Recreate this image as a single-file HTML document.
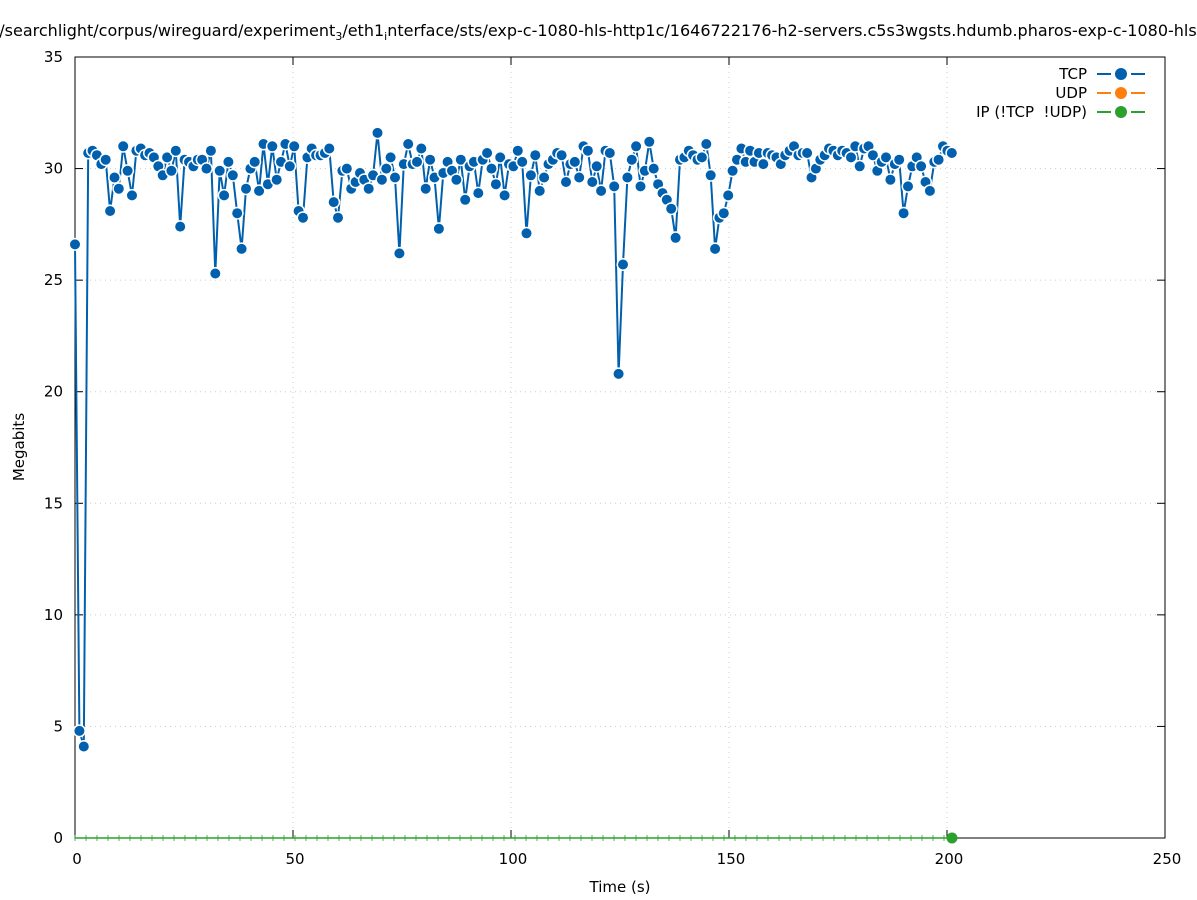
<!DOCTYPE html>
<html><head><meta charset="utf-8"><style>
body{margin:0;background:#fff;}
svg{display:block;font-family:"DejaVu Sans","Liberation Sans",sans-serif;}
</style></head><body>
<svg id="s" width="1197" height="900" xmlns="http://www.w3.org/2000/svg"></svg>
<script>
const d=[26.6,4.8,4.1,30.7,30.8,30.6,30.2,30.4,28.1,29.6,29.1,31.0,29.9,28.8,30.8,30.9,30.6,30.7,30.5,30.1,29.7,30.5,29.9,30.8,27.4,30.4,30.3,30.1,30.4,30.4,30.0,30.8,25.3,29.9,28.8,30.3,29.7,28.0,26.4,29.1,30.0,30.3,29.0,31.1,29.3,31.0,29.5,30.3,31.1,30.1,31.0,28.1,27.8,30.5,30.9,30.6,30.6,30.7,30.9,28.5,27.8,29.9,30.0,29.1,29.4,29.8,29.5,29.1,29.7,31.6,29.5,30.0,30.5,29.6,26.2,30.2,31.1,30.2,30.3,30.9,29.1,30.4,29.6,27.3,29.8,30.3,29.9,29.5,30.4,28.6,30.1,30.3,28.9,30.4,30.7,30.0,29.3,30.5,28.8,30.2,30.1,30.8,30.3,27.1,29.7,30.6,29.0,29.6,30.2,30.4,30.7,30.6,29.4,30.2,30.3,29.6,31.0,30.8,29.4,30.1,29.0,30.8,30.7,29.2,20.8,25.7,29.6,30.4,31.0,29.2,29.9,31.2,30.0,29.3,28.9,28.6,28.2,26.9,30.4,30.5,30.8,30.6,30.4,30.5,31.1,29.7,26.4,27.8,28.0,28.8,29.9,30.4,30.9,30.3,30.8,30.3,30.7,30.2,30.7,30.6,30.5,30.2,30.6,30.8,31.0,30.6,30.7,30.7,29.6,30.0,30.4,30.6,30.9,30.8,30.6,30.8,30.7,30.5,31.0,30.1,30.9,31.0,30.6,29.9,30.3,30.5,29.5,30.2,30.4,28.0,29.2,30.1,30.5,30.1,29.4,29.0,30.3,30.4,31.0,30.8,30.7];
const X=v=>75+v*4.36, Y=v=>838-v*22.314;
let h='';
h+=`<text x="598" y="36" font-size="16" text-anchor="middle">/searchlight/corpus/wireguard/experiment<tspan font-size="11" dy="4">3</tspan><tspan dy="-4">/eth1</tspan><tspan font-size="11" dy="4">i</tspan><tspan dy="-4">nterface/sts/exp-c-1080-hls-http1c/1646722176-h2-servers.c5s3wgsts.hdumb.pharos-exp-c-1080-hls</tspan></text>`;
for(let i=0;i<=5;i++){let x=X(i*50);if(i>0&&i<5)h+=`<line x1="${x}" y1="57" x2="${x}" y2="838" stroke="#ccc" stroke-dasharray="1,4"/>`;
h+=`<line x1="${x}" y1="838" x2="${x}" y2="830" stroke="#000"/><line x1="${x}" y1="57" x2="${x}" y2="65" stroke="#000"/>`;
h+=`<text x="${x+2}" y="864" font-size="15" text-anchor="middle">${i*50}</text>`;}
for(let i=0;i<=7;i++){let y=Y(i*5);if(i>0&&i<7)h+=`<line x1="75" y1="${y}" x2="1165" y2="${y}" stroke="#ccc" stroke-dasharray="1,4"/>`;
h+=`<line x1="75" y1="${y}" x2="83" y2="${y}" stroke="#000"/><line x1="1165" y1="${y}" x2="1157" y2="${y}" stroke="#000"/>`;
h+=`<text x="63" y="${y+5}" font-size="15" text-anchor="end">${i*5}</text>`;}
h+=`<rect x="75" y="57" width="1090" height="781" fill="none" stroke="#000"/>`;
h+=`<text x="620" y="892" font-size="15" text-anchor="middle">Time (s)</text>`;
h+=`<text transform="translate(24,447) rotate(-90)" font-size="15" text-anchor="middle">Megabits</text>`;
h+=`<line x1="75" y1="838" x2="952" y2="838" stroke="#2ca02c" stroke-width="1.5"/>`;
for(let x=75;x<952;x+=11)h+=`<line x1="${x}" y1="835" x2="${x}" y2="841" stroke="#2ca02c" stroke-width="0.8"/>`;
let p=d.map((v,i)=>`${X(i*1.0055).toFixed(1)},${Y(v).toFixed(1)}`).join(' ');
h+=`<polyline points="${p}" fill="none" stroke="#0060ad" stroke-width="2"/>`;
d.forEach((v,i)=>{h+=`<circle cx="${X(i*1.0055).toFixed(1)}" cy="${Y(v).toFixed(1)}" r="6.5" fill="#fff"/><circle cx="${X(i*1.0055).toFixed(1)}" cy="${Y(v).toFixed(1)}" r="5" fill="#0060ad"/>`;});
h+=`<circle cx="952" cy="838" r="5.5" fill="#2ca02c"/>`;
const L=[["TCP","#0060ad"],["UDP","#ff7f0e"],["IP (!TCP  !UDP)","#2ca02c"]];
L.forEach((l,i)=>{let y=74+i*19;h+=`<text x="1087" y="${y+5}" font-size="15" text-anchor="end" xml:space="preserve">${l[0]}</text>`;
h+=`<line x1="1097" y1="${y}" x2="1111" y2="${y}" stroke="${l[1]}" stroke-width="2"/><line x1="1131" y1="${y}" x2="1145" y2="${y}" stroke="${l[1]}" stroke-width="2"/><circle cx="1121" cy="${y}" r="6" fill="${l[1]}"/>`;});
document.getElementById('s').innerHTML=h;
</script>
</body></html>
